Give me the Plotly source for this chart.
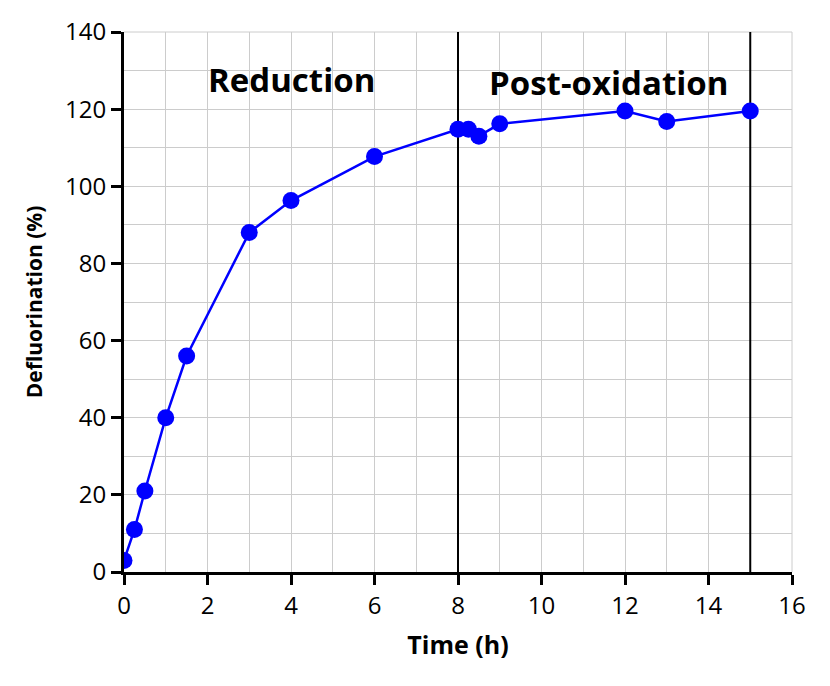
import plotly.graph_objects as go

time_h = [0, 0.25, 0.5, 1, 1.5, 3, 4, 6, 8, 8.25, 8.5, 9, 12, 13, 15]
defluorination = [3, 11, 21, 40, 56, 88, 96.3, 107.7, 114.8, 114.8, 113, 116.2, 119.5, 116.8, 119.5]
phase_boundaries = [8, 15]
phase_labels = ["Reduction", "Post-oxidation"]
phase_label_x = [4.0, 11.6]
phase_label_y = [127.6, 127.0]

FONT = "Open Sans"
GRID = "#cccccc"

fig = go.Figure()
for xb in phase_boundaries:
    fig.add_trace(go.Scatter(x=[xb, xb], y=[0, 140], mode="lines",
                             line=dict(color="black", width=2), showlegend=False,
                             hoverinfo="skip"))
fig.add_trace(go.Scatter(x=time_h, y=defluorination, mode="lines+markers",
                         line=dict(color="#0000ff", width=2.5),
                         marker=dict(color="#0000ff", size=17),
                         showlegend=False))

for lbl, lx, ly in zip(phase_labels, phase_label_x, phase_label_y):
    fig.add_annotation(x=lx, y=ly, text="<b>%s</b>" % lbl, showarrow=False,
                       font=dict(family=FONT, size=33, color="black"))

fig.update_layout(
    width=830, height=686,
    margin=dict(l=116, r=46, t=24, b=122, autoexpand=False),
    plot_bgcolor="white", paper_bgcolor="white",
    font=dict(family=FONT, size=24, color="black"),
    xaxis=dict(range=[0, 16], tickvals=list(range(0, 17, 2)),
               showline=True, linecolor="black", linewidth=3,
               ticks="outside", ticklen=10, tickwidth=3, tickcolor="black",
               showgrid=True, gridcolor=GRID, gridwidth=1,
               minor=dict(dtick=1, showgrid=True, gridcolor=GRID, gridwidth=1),
               zeroline=False,
               title=dict(text="<b>Time (h)</b>", font=dict(size=25), standoff=17)),
    yaxis=dict(range=[0, 140], tickvals=list(range(0, 141, 20)),
               showline=True, linecolor="black", linewidth=3,
               ticks="outside", ticklen=10, tickwidth=3, tickcolor="black",
               showgrid=True, gridcolor=GRID, gridwidth=1,
               minor=dict(dtick=10, showgrid=True, gridcolor=GRID, gridwidth=1),
               zeroline=False,
               title=dict(text="<b>Defluorination (%)</b>", font=dict(size=21), standoff=17)),
)
fig.add_shape(type="line", xref="paper", yref="paper", x0=0, x1=1, y0=1, y1=1,
              line=dict(color=GRID, width=1), layer="below")
fig.add_shape(type="line", xref="paper", yref="paper", x0=1, x1=1, y0=0, y1=1,
              line=dict(color=GRID, width=1), layer="below")

fig.write_html("out.html")
